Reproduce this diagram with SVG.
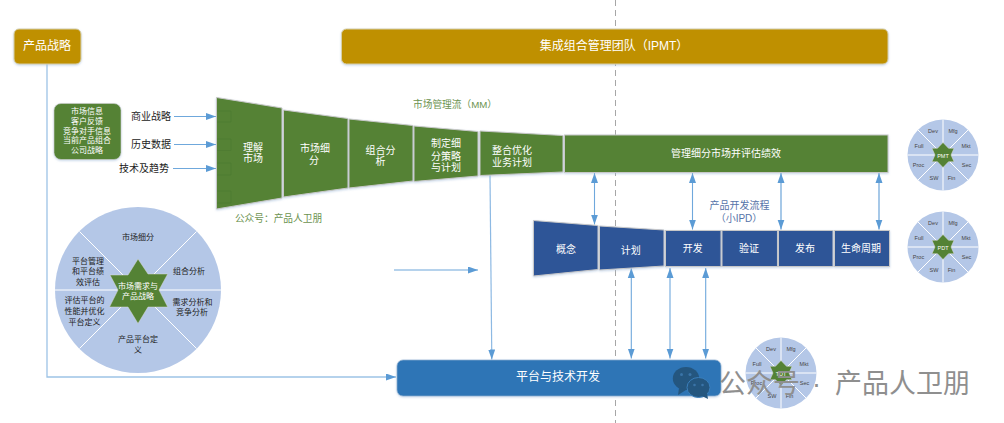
<svg xmlns="http://www.w3.org/2000/svg" xmlns:xlink="http://www.w3.org/1999/xlink" width="1004" height="423" viewBox="0 0 1004 423">
<style>
text{font-family:"Liberation Sans","Noto Sans CJK SC",sans-serif;text-anchor:middle}
.w{fill:#fff;font-size:10px}
.w8{fill:#fff;font-size:8px}
.k{fill:#222;font-size:10px}
.k8{fill:#222;font-size:8px}
.s{fill:#444;font-size:5.5px}
.g{fill:#548235;stroke:#c8c8c8;stroke-width:1;filter:url(#sh)}
.b{fill:#2F5597;stroke:#c8c8c8;stroke-width:1;filter:url(#sh)}
.gold{fill:#BF9000;stroke:#d6cfa8;stroke-width:1;filter:url(#sh)}
.pie{fill:#B4C7E7}
.sp{stroke:#fff;stroke-width:1;fill:none}
.star{fill:#548235;stroke:#d8d8d8;stroke-width:.5}
.ar{stroke:#6FA8DC;stroke-width:1;fill:none;marker-end:url(#a)}
.ar2{stroke:#6FA8DC;stroke-width:1.100;fill:none;marker-end:url(#a);marker-start:url(#as)}
.ar3{stroke:#9DC3E6;stroke-width:1.800;fill:none;marker-end:url(#a);marker-start:url(#as)}
.mm{font-size:9.700px;fill:#6C9350}
.pd{font-size:10px;fill:#5673A8}
</style>
<defs>
<filter id="sh" x="-5%" y="-5%" width="110%" height="115%"><feDropShadow dx="0" dy="1" stdDeviation="1" flood-color="#9DB8D8" flood-opacity=".55"/></filter>
<marker id="a" markerUnits="userSpaceOnUse" markerWidth="11" markerHeight="8" refX="10" refY="3.500" orient="auto"><path d="M0 0L10 3.500L0 7Z" fill="#5B9BD5"/></marker>
<marker id="as" markerUnits="userSpaceOnUse" markerWidth="11" markerHeight="8" refX="0" refY="3.500" orient="auto"><path d="M10 0L0 3.500L10 7Z" fill="#5B9BD5"/></marker>
<g id="wheel">
<circle r="35.500" class="pie"/>
<path class="sp" d="M0-35.500V35.500M-35.500 0H35.500M-25-25L25 25M-25 25L25-25"/>
<path class="star" d="M0-12.500L5.500-6.700L11-6.700L8 0L11 6.700L5.500 6.700L0 12.500L-5.500 6.700L-11 6.700L-8 0L-11-6.700L-5.500-6.700Z"/>
<text class="s" x="-10" y="-22">Dev</text>
<text class="s" x="10" y="-22">Mfg</text>
<text class="s" x="23" y="-7.500">Mkt</text>
<text class="s" x="23.500" y="12">Sec</text>
<text class="s" x="8.500" y="25">Fin</text>
<text class="s" x="-9" y="25">SW</text>
<text class="s" x="-24.500" y="12">Proc</text>
<text class="s" x="-24" y="-7.500">Full</text>
</g>
</defs>
<rect width="1004" height="423" fill="#fff"/>

<path d="M615.500 0V423" stroke="#a6a6a6" stroke-width="1" stroke-dasharray="6 4" fill="none"/>

<g id="connectors">
<path d="M47 64V377H396" stroke="#9DC3E6" stroke-width="1.300" fill="none" marker-end="url(#a)"/>
<path class="ar" d="M174 116.500H216"/>
<path class="ar" d="M174 144.500H216"/>
<path class="ar" d="M173 168.500H216"/>
<path stroke="#9DC3E6" stroke-width="1.300" fill="none" marker-end="url(#a)" d="M394 270H478"/>
<path d="M490 175L491.800 359.500" stroke="#8DB9E3" stroke-width="1.200" fill="none" marker-end="url(#a)"/>
<path class="ar2" d="M594.500 173V224.500"/>
<path class="ar2" d="M692.500 173V229.500"/>
<path class="ar3" d="M781 173V229.500"/>
<path class="ar3" d="M879 173V229.500"/>
<path class="ar2" d="M631.300 268V358.500"/>
<path class="ar2" d="M670 268V358.500"/>
<path class="ar2" d="M705.700 268V358.500"/>
</g>

<g id="strategy"><rect class="gold" x="14" y="29" width="67" height="35" rx="5"/><text class="w" x="47" y="50" style="font-size:12px">产品战略</text></g>
<g id="ipmt"><rect class="gold" x="341.500" y="29" width="546.500" height="35" rx="5"/><text class="w" x="614" y="50" style="font-size:12px">集成组合管理团队（IPMT）</text></g>

<g id="inputs"><rect x="54" y="103.500" width="67" height="56" rx="7" fill="#548235" stroke="#d0d0d0" stroke-width=".6" filter="url(#sh)"/>
<text class="w8" x="87" y="114">市场信息</text><text class="w8" x="87" y="124">客户反馈</text><text class="w8" x="87" y="133.500">竞争对手信息</text><text class="w8" x="87" y="143">当前产品组合</text><text class="w8" x="87" y="152.500">公司战略</text></g>
<g id="label-biz"><text class="k" x="151" y="120">商业战略</text></g>
<g id="label-hist"><text class="k" x="151" y="148">历史数据</text></g>
<g id="label-tech"><text class="k" x="144" y="172">技术及趋势</text></g>

<g id="mm1"><path class="g" d="M216.500 97.500L282 108V198L216.500 209Z"/>
<path d="M217 111H231V122H217M217 139H231V150.500H217M217 163H231V175H217M217 191H231V203H217" fill="none" stroke="#4C7830" stroke-width=".6"/>
<text class="w" x="253" y="151">理解</text><text class="w" x="253" y="162">市场</text></g>
<g id="mm2"><path class="g" d="M283.500 110L348 118.500V188L283.500 197Z"/><text class="w" x="315" y="152">市场细</text><text class="w" x="314" y="164">分</text></g>
<g id="mm3"><path class="g" d="M349 119L413 125.500V181L349 188Z"/><text class="w" x="380.500" y="154">组合分</text><text class="w" x="380.500" y="165">析</text></g>
<g id="mm4"><path class="g" d="M414 126L478 131.500V176L414 181.500Z"/><text class="w" x="446" y="147">制定细</text><text class="w" x="446" y="159.500">分策略</text><text class="w" x="446" y="171">与计划</text></g>
<g id="mm5"><path class="g" d="M480 131L563 135.500V172L480 175.500Z"/><text class="w" x="512" y="154">整合优化</text><text class="w" x="512" y="165.500">业务计划</text></g>
<g id="mm6"><rect class="g" x="564.500" y="135" width="323.500" height="37.500"/><text class="w" x="726" y="157">管理细分市场并评估绩效</text></g>
<g id="mm-title"><text class="mm" x="455" y="108">市场管理流（MM）</text></g>
<g id="mm-wm"><text class="mm" x="278.500" y="221.500">公众号：产品人卫朋</text></g>

<g id="pd-title"><text class="pd" x="739.500" y="209">产品开发流程</text><text class="pd" x="739" y="221.500">（小IPD）</text></g>
<g id="pd1"><path class="b" d="M533.500 220.500L598 225.500V269.500L533.500 276Z"/><text class="w" x="566" y="253">概念</text></g>
<g id="pd2"><path class="b" d="M599.500 226L664 230V266L599.500 270Z"/><text class="w" x="630.700" y="254">计划</text></g>
<g id="pd3"><rect class="b" x="665.500" y="230.500" width="55.500" height="36"/><text class="w" x="692.700" y="251.500">开发</text></g>
<g id="pd4"><rect class="b" x="722" y="230.500" width="55.500" height="36"/><text class="w" x="749" y="251.500">验证</text></g>
<g id="pd5"><rect class="b" x="778.500" y="230.500" width="54.500" height="36"/><text class="w" x="805" y="251.500">发布</text></g>
<g id="pd6"><rect class="b" x="834.500" y="230.500" width="55" height="36"/><text class="w" x="861" y="251.500">生命周期</text></g>

<g id="market-wheel">
<circle cx="138" cy="290" r="83" class="pie"/>
<path class="sp" d="M55 290H221M79.500 231.500L196.500 348.500M79.500 348.500L196.500 231.500"/>
<path class="star" d="M138 259L148 274H167.700L159 290L167.700 307H148L138 323.500L128 307H109.500L118 290L110 275H128Z"/>
<text class="w8" x="138" y="288.500">市场需求与</text><text class="w8" x="138" y="299">产品战略</text>
<text class="k8" x="138" y="240">市场细分</text>
<text class="k8" x="189" y="274">组合分析</text>
<text class="k8" x="192.500" y="305">需求分析和</text><text class="k8" x="192" y="315">竞争分析</text>
<text class="k8" x="138" y="342">产品平台定</text><text class="k8" x="138" y="353">义</text>
<text class="k8" x="84.500" y="303">评估平台的</text><text class="k8" x="84.500" y="314">性能并优化</text><text class="k8" x="84.500" y="325">平台定义</text>
<text class="k8" x="88" y="264">平台管理</text><text class="k8" x="88" y="274">和平台绩</text><text class="k8" x="88" y="285">效评估</text>
</g>

<g id="pmt"><use xlink:href="#wheel" href="#wheel" transform="translate(943 155)"/><text class="w8" x="943" y="157.500" style="font-size:5.500px">PMT</text></g>
<g id="pdt"><use xlink:href="#wheel" href="#wheel" transform="translate(943 247)"/><text class="w8" x="943" y="249.500" style="font-size:5.500px">PDT</text></g>
<g id="tdt"><use xlink:href="#wheel" href="#wheel" transform="translate(781 373)"/><text class="w8" x="781" y="375.500" style="font-size:5.500px">TDT</text></g>

<g id="platform"><rect x="397" y="360" width="324" height="36" rx="6" fill="#2E75B6" stroke="#8FB0D0" stroke-width=".7" filter="url(#sh)"/><text class="w" x="558" y="381" style="font-size:12px">平台与技术开发</text></g>

<g id="watermark">
<ellipse cx="686" cy="378.500" rx="13.200" ry="11.500" fill="#24567F"/>
<path d="M679 388L678 395L686 390Z" fill="#24567F"/>
<circle cx="681.500" cy="374.500" r="1.500" fill="#3A74A8"/><circle cx="690" cy="374.500" r="1.500" fill="#3A74A8"/>
<ellipse cx="698.500" cy="387.500" rx="11.500" ry="10" fill="#24567F" stroke="#3A7FBC" stroke-width="1"/>
<path d="M702 396L708 399L707 393Z" fill="#24567F"/>
<circle cx="694.500" cy="385" r="1.300" fill="#3A74A8"/><circle cx="702.500" cy="385" r="1.300" fill="#3A74A8"/>
<text y="393" style="font-size:27px;fill:#8f8f8f;text-anchor:start"><tspan x="719">公众号</tspan><tspan x="812">·</tspan><tspan x="835">产品人卫朋</tspan></text>
</g>
</svg>
